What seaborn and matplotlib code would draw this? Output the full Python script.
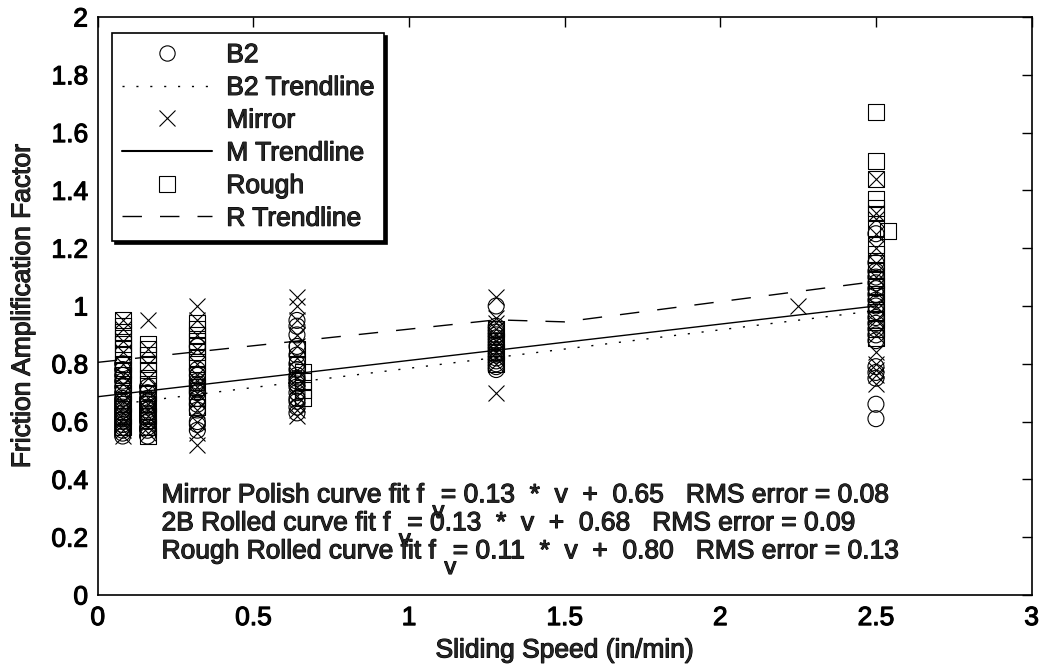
import numpy as np
import pandas as pd
import matplotlib
matplotlib.use("Agg")
import matplotlib.pyplot as plt
import matplotlib.patheffects as pe
from matplotlib.lines import Line2D
import seaborn as sns

# ---------------- data ----------------
b2_speeds = [0.08, 0.16, 0.32, 0.64, 1.28, 2.5]
b2_values = [
    [0.55, 0.56, 0.57, 0.58, 0.59, 0.60, 0.61, 0.62, 0.63, 0.64, 0.65, 0.66, 0.67, 0.68, 0.70, 0.72, 0.74, 0.76, 0.78, 0.80],
    [0.55, 0.57, 0.58, 0.60, 0.61, 0.62, 0.63, 0.64, 0.65, 0.66, 0.67, 0.68, 0.70, 0.72],
    [0.57, 0.59, 0.60, 0.64, 0.66, 0.68, 0.70, 0.71, 0.72, 0.73, 0.74, 0.76, 0.78, 0.86],
    [0.63, 0.65, 0.67, 0.68, 0.70, 0.72, 0.73, 0.74, 0.75, 0.76, 0.78, 0.80, 0.83, 0.86, 0.90, 0.93, 0.95],
    [0.78, 0.79, 0.80, 0.81, 0.82, 0.83, 0.84, 0.85, 0.86, 0.87, 0.88, 0.89, 0.90, 0.91, 0.92, 0.93, 1.00],
    [0.61, 0.66, 0.75, 0.77, 0.79, 0.88, 0.90, 0.92, 0.94, 0.96, 0.98, 1.00, 1.02, 1.04, 1.06, 1.08, 1.10, 1.12, 1.15, 1.25],
]
mirror_speeds = [0.08, 0.16, 0.32, 0.64, 1.28, 2.25, 2.5]
mirror_values = [
    [0.55, 0.57, 0.59, 0.61, 0.63, 0.65, 0.67, 0.70, 0.73, 0.76, 0.80, 0.84, 0.88, 0.92, 0.95],
    [0.56, 0.58, 0.60, 0.62, 0.64, 0.66, 0.68, 0.71, 0.75, 0.80, 0.85, 0.95],
    [0.52, 0.56, 0.60, 0.64, 0.67, 0.70, 0.72, 0.74, 0.76, 0.80, 0.85, 0.90, 0.95, 1.00],
    [0.62, 0.64, 0.66, 0.69, 0.72, 0.75, 0.78, 0.82, 0.86, 0.90, 0.95, 1.00, 1.03],
    [0.70, 0.80, 0.82, 0.84, 0.86, 0.88, 0.90, 0.92, 0.94, 0.96, 1.03],
    [1.00],
    [0.73, 0.76, 0.78, 0.80, 0.84, 0.90, 0.95, 1.00, 1.05, 1.10, 1.15, 1.20, 1.25, 1.30, 1.32, 1.44],
]
rough_speeds = [0.08, 0.16, 0.32, 0.64, 0.66, 1.28, 2.5, 2.54]
rough_values = [
    [0.58, 0.62, 0.66, 0.70, 0.73, 0.76, 0.78, 0.80, 0.83, 0.85, 0.87, 0.89, 0.91, 0.93, 0.95],
    [0.55, 0.58, 0.62, 0.66, 0.70, 0.73, 0.75, 0.78, 0.80, 0.83, 0.85, 0.87],
    [0.65, 0.68, 0.72, 0.76, 0.80, 0.82, 0.84, 0.86, 0.88, 0.90, 0.92, 0.94],
    [0.80, 0.85],
    [0.68, 0.71, 0.74, 0.77],
    [0.80, 0.84, 0.88, 0.92],
    [0.89, 0.92, 0.95, 0.98, 1.01, 1.04, 1.07, 1.09, 1.12, 1.15, 1.18, 1.21, 1.27, 1.32, 1.34, 1.37, 1.44, 1.50, 1.67],
    [1.26],
]

b2_trend_x = [0.08, 2.5]
b2_trend_y = [0.662, 0.984]
m_trend_x = [0.0, 2.5]
m_trend_y = [0.686, 1.000]
r_trend_x = [0.0, 1.28, 1.5, 2.5]
r_trend_y = [0.805, 0.952, 0.945, 1.085]

fit_names = ["Mirror Polish", "2B Rolled", "Rough Rolled"]
fit_slopes = [0.13, 0.13, 0.11]
fit_intercepts = [0.65, 0.68, 0.80]
fit_rms = [0.08, 0.09, 0.13]

x_ticks = [0, 0.5, 1, 1.5, 2, 2.5, 3]
x_tick_labels = ["0", "0.5", "1", "1.5", "2", "2.5", "3"]
y_ticks = [0, 0.2, 0.4, 0.6, 0.8, 1.0, 1.2, 1.4, 1.6, 1.8, 2.0]
y_tick_labels = ["0", "0.2", "0.4", "0.6", "0.8", "1", "1.2", "1.4", "1.6", "1.8", "2"]


def to_frame(speeds, values):
    xs, ys = [], []
    for s, vals in zip(speeds, values):
        xs += [s] * len(vals)
        ys += list(vals)
    return pd.DataFrame({"speed": xs, "faf": ys})


b2_df = to_frame(b2_speeds, b2_values)
mirror_df = to_frame(mirror_speeds, mirror_values)
rough_df = to_frame(rough_speeds, rough_values)

# ---------------- style ----------------
sns.set_style("white")
plt.rcParams["font.family"] = ["Liberation Sans", "DejaVu Sans"]
plt.rcParams["lines.scale_dashes"] = False

FS = 19
txt_fx = [pe.withStroke(linewidth=0.8, foreground="black")]

fig = plt.figure(figsize=(10.42, 6.71), dpi=100)
ax = fig.add_axes([0.0938, 0.1133, 0.8962, 0.8614])

MS = 132
LW = 0.8

sns.lineplot(x=b2_trend_x, y=b2_trend_y, ax=ax, color="black", lw=1.0,
             linestyle=(0, (1.5, 8.5)), zorder=3)
sns.lineplot(x=m_trend_x, y=m_trend_y, ax=ax, color="black", lw=1.0, zorder=3)
sns.lineplot(x=r_trend_x, y=r_trend_y, ax=ax, color="black", lw=1.0,
             linestyle=(0, (14, 13)), zorder=3, sort=False)

sns.scatterplot(data=b2_df, x="speed", y="faf", ax=ax, marker="o", s=MS,
                facecolor="none", edgecolor="black", linewidth=LW, zorder=2)
sns.scatterplot(data=mirror_df, x="speed", y="faf", ax=ax, marker="x", s=MS,
                color="black", linewidth=LW, zorder=2)
sns.scatterplot(data=rough_df, x="speed", y="faf", ax=ax, marker="s", s=MS,
                facecolor="none", edgecolor="black", linewidth=LW, zorder=2)

ax.set_xlim(0, 3)
ax.set_ylim(0, 2)
ax.set_xticks(x_ticks)
ax.set_xticklabels(x_tick_labels)
ax.set_yticks(y_ticks)
ax.set_yticklabels(y_tick_labels)
ax.tick_params(direction="in", length=7, width=1, top=True, right=True,
               labelsize=FS, colors="black")
ax.tick_params(axis="x", pad=8)
ax.tick_params(axis="y", pad=7)
for lab in ax.get_xticklabels() + ax.get_yticklabels():
    lab.set_path_effects(txt_fx)
for sp in ax.spines.values():
    sp.set_visible(True)
    sp.set_color("black")
    sp.set_linewidth(1.2)

ax.set_xlabel("Sliding Speed (in/min)", fontsize=FS, labelpad=6, path_effects=txt_fx)
ax.set_ylabel("Friction Amplification Factor", fontsize=FS, labelpad=12, path_effects=txt_fx)

# legend
handles = [
    Line2D([], [], marker="o", ls="none", mfc="none", mec="black", ms=11, mew=LW),
    Line2D([], [], color="black", lw=1.0, linestyle=(0, (1.5, 8.5))),
    Line2D([], [], marker="x", ls="none", color="black", ms=11, mew=LW),
    Line2D([], [], color="black", lw=1.5),
    Line2D([], [], marker="s", ls="none", mfc="none", mec="black", ms=11, mew=LW),
    Line2D([], [], color="black", lw=1.0, linestyle=(0, (14, 13))),
]
labels = ["B2", "B2 Trendline", "Mirror", "M Trendline", "Rough", "R Trendline"]
leg = ax.legend(handles, labels, loc="upper left", bbox_to_anchor=(0.0153, 0.972),
                borderaxespad=0, fontsize=FS, frameon=True, fancybox=False,
                edgecolor="black", framealpha=1, handlelength=3.4,
                handletextpad=0.55, labelspacing=0.33, borderpad=0.38,
                numpoints=1, shadow={"color": "black", "alpha": 1})
leg.get_frame().set_linewidth(1.2)
for t in leg.get_texts():
    t.set_path_effects(txt_fx)

# fit annotations
line_y = [0.345, 0.248, 0.151]
for name, k, b, r, yy in zip(fit_names, fit_slopes, fit_intercepts, fit_rms, line_y):
    t1 = ax.text(0.205, yy, f"{name} curve fit f", fontsize=FS, va="center",
                 ha="left", path_effects=txt_fx)
    ax.annotate("v", xy=(1, 0.5), xycoords=t1, xytext=(6, -12),
                textcoords="offset points", fontsize=FS - 2, va="center",
                ha="left", path_effects=txt_fx)
    ax.annotate(f"= {k:.2f}  *  v  +  {b:.2f}   RMS error = {r:.2f}", xy=(1, 0),
                xycoords=t1, xytext=(12, 0), textcoords="offset points",
                fontsize=FS, va="bottom", ha="left", path_effects=txt_fx)

fig.savefig("out.png", dpi=100, facecolor="white")
